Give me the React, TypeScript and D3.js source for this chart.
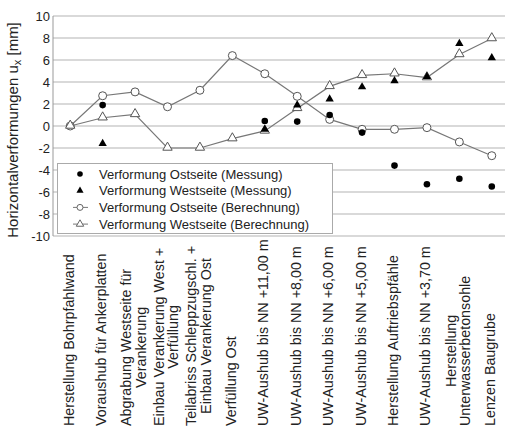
import React, { useEffect, useRef } from "react";
import * as d3 from "d3";

// Bauphasen (x axis), multi-line labels split by "\n"
const categories = [
  "Herstellung Bohrpfahlwand",
  "Voraushub für Ankerplatten",
  "Abgrabung Westseite für\nVerankerung",
  "Einbau Verankerung West +\nVerfüllung",
  "Teilabriss Schleppzugschl. +\nEinbau Verankerung Ost",
  "Verfüllung Ost",
  "UW-Aushub bis NN +11,00 m",
  "UW-Aushub bis NN +8,00 m",
  "UW-Aushub bis NN +6,00 m",
  "UW-Aushub bis NN +5,00 m",
  "Herstellung Auftriebspfähle",
  "UW-Aushub bis NN +3,70 m",
  "Herstellung\nUnterwasserbetonsohle",
  "Lenzen Baugrube",
];

const ostMessung = [null, 1.9, null, null, null, null, 0.45, 0.4, 1.0, -0.6, -3.6, -5.3, -4.8, -5.5];
const westMessung = [null, -1.6, null, null, null, null, -0.3, 1.9, 2.45, 3.55, 4.1, 4.5, 7.5, 6.2];
const ostBerechnung = [0, 2.75, 3.1, 1.75, 3.25, 6.4, 4.75, 2.7, 0.6, -0.3, -0.3, -0.15, -1.45, -2.7];
const westBerechnung = [0, 0.75, 1.05, -2.0, -2.0, -1.15, -0.45, 1.6, 3.6, 4.6, 4.75, 4.4, 6.5, 7.95];

const yTicks = [10, 8, 6, 4, 2, 0, -2, -4, -6, -8, -10];
const legendLabels = [
  "Verformung Ostseite (Messung)",
  "Verformung Westseite (Messung)",
  "Verformung Ostseite (Berechnung)",
  "Verformung Westseite (Berechnung)",
];

const FONT = "Liberation Sans, Arial, sans-serif";

export default function App() {
  const ref = useRef<SVGSVGElement>(null);

  useEffect(() => {
    const svg = d3.select(ref.current);
    svg.selectAll("*").remove();

    const left = 53, top = 16, bottom = 236;
    const x = d3.scalePoint<number>().domain(d3.range(categories.length)).range([54, 508]).padding(0.5);
    const y = d3.scaleLinear().domain([-10, 10]).range([bottom, top]);

    // grid
    svg.append("g")
      .selectAll("line")
      .data(yTicks)
      .enter()
      .append("line")
      .attr("x1", left)
      .attr("x2", 505)
      .attr("y1", (d) => y(d))
      .attr("y2", (d) => y(d))
      .attr("stroke", "#b4b4b4")
      .attr("stroke-width", 1.2);

    svg.append("line")
      .attr("x1", left).attr("x2", left)
      .attr("y1", top).attr("y2", bottom)
      .attr("stroke", "#999");

    // y tick labels
    svg.append("g")
      .selectAll("text")
      .data(yTicks)
      .enter()
      .append("text")
      .attr("x", left - 3)
      .attr("y", (d) => y(d))
      .attr("dy", "0.35em")
      .attr("text-anchor", "end")
      .attr("font-size", 13)
      .attr("font-family", FONT)
      .attr("fill", "#222")
      .text((d) => d);

    // y title
    const title = svg.append("text")
      .attr("transform", `translate(18, 130) rotate(-90)`)
      .attr("text-anchor", "middle")
      .attr("font-size", 15)
      .attr("font-family", FONT)
      .attr("fill", "#222");
    title.append("tspan").text("Horizontalverformungen u");
    title.append("tspan").attr("font-size", 11).attr("dy", 3).text("x");
    title.append("tspan").attr("dy", -3).text(" [mm]");

    // category labels, block bottom-aligned, lines centered
    categories.forEach((cat, i) => {
      const lines = cat.split("\n");
      const g = svg.append("g");
      const texts = lines.map((ln) =>
        g.append("text")
          .attr("font-size", 14.3)
          .attr("font-family", FONT)
          .attr("fill", "#222")
          .attr("text-anchor", "middle")
          .text(ln)
      );
      const w = d3.max(texts, (t) => (t.node() as SVGTextElement).getComputedTextLength()) || 0;
      const cy = 426 - w / 2;
      const lh = 14.5;
      texts.forEach((t, j) => {
        const cx = x(i)! + 3.5 + (j - (lines.length - 1) / 2) * lh;
        t.attr("transform", `translate(${cx}, ${cy}) rotate(-90)`);
      });
    });

    // lines
    const lineGen = d3.line<number>().x((_, i) => x(i)!).y((d) => y(d));
    [ostBerechnung, westBerechnung].forEach((s) => {
      svg.append("path")
        .attr("d", lineGen(s))
        .attr("fill", "none")
        .attr("stroke", "#777")
        .attr("stroke-width", 1.2);
    });

    const tri = d3.symbol().type(d3.symbolTriangle);

    // open circles
    svg.append("g").selectAll("circle")
      .data(ostBerechnung)
      .enter()
      .append("circle")
      .attr("cx", (_, i) => x(i)!)
      .attr("cy", (d) => y(d))
      .attr("r", 4)
      .attr("fill", "#fff")
      .attr("stroke", "#555")
      .attr("stroke-width", 1);

    // open triangles
    svg.append("g").selectAll("path")
      .data(westBerechnung)
      .enter()
      .append("path")
      .attr("d", tri.size(38)())
      .attr("transform", (d, i) => `translate(${x(i)}, ${y(d) - 0.5})`)
      .attr("fill", "#fff")
      .attr("stroke", "#555")
      .attr("stroke-width", 1);

    // measured
    const ostM = ostMessung.map((v, i) => ({ v, i })).filter((d) => d.v !== null);
    svg.append("g").selectAll("circle")
      .data(ostM)
      .enter()
      .append("circle")
      .attr("cx", (d) => x(d.i)!)
      .attr("cy", (d) => y(d.v as number))
      .attr("r", 3.3)
      .attr("fill", "#000");

    const westM = westMessung.map((v, i) => ({ v, i })).filter((d) => d.v !== null);
    svg.append("g").selectAll("path")
      .data(westM)
      .enter()
      .append("path")
      .attr("d", tri.size(30)())
      .attr("transform", (d) => `translate(${x(d.i)}, ${y(d.v as number)})`)
      .attr("fill", "#000");

    // legend
    const lg = svg.append("g");
    lg.append("rect")
      .attr("x", 57.5).attr("y", 163.5)
      .attr("width", 275).attr("height", 70)
      .attr("fill", "#fff")
      .attr("stroke", "#aaa");
    legendLabels.forEach((lab, k) => {
      const ly = 174 + k * 16.7;
      const sx = 80;
      if (k >= 2) {
        lg.append("line")
          .attr("x1", sx - 7).attr("x2", sx + 8)
          .attr("y1", ly).attr("y2", ly)
          .attr("stroke", "#777");
      }
      if (k === 0) lg.append("circle").attr("cx", sx).attr("cy", ly).attr("r", 2.8).attr("fill", "#000");
      if (k === 1) lg.append("path").attr("d", tri.size(22)()).attr("transform", `translate(${sx},${ly})`).attr("fill", "#000");
      if (k === 2) lg.append("circle").attr("cx", sx).attr("cy", ly).attr("r", 3).attr("fill", "#fff").attr("stroke", "#666");
      if (k === 3) lg.append("path").attr("d", tri.size(24)()).attr("transform", `translate(${sx},${ly})`).attr("fill", "#fff").attr("stroke", "#666");
      lg.append("text")
        .attr("x", 99)
        .attr("y", ly)
        .attr("dy", "0.35em")
        .attr("font-size", 13)
        .attr("font-family", FONT)
        .attr("fill", "#222")
        .text(lab);
    });
  }, []);

  return (
    <svg
      ref={ref}
      width={505}
      height={431}
      style={{ position: "absolute", left: 0, top: 0, background: "#fff" }}
    />
  );
}
